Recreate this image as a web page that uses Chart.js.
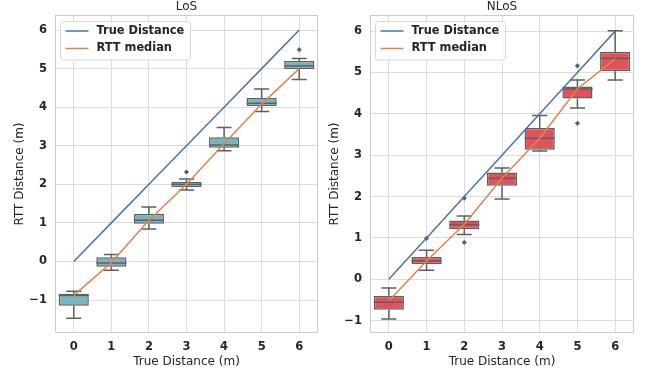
<!DOCTYPE html>
<html><head><meta charset="utf-8">
<script src="https://cdn.jsdelivr.net/npm/chart.js@4"></script>
<style>
body{margin:0;background:#fff;width:651px;height:375px;overflow:hidden;position:relative}
canvas{position:absolute;top:0}
#c1{left:0}
#c2{left:325px}
</style></head><body>
<canvas id="c1" width="325" height="375"></canvas>
<canvas id="c2" width="326" height="375"></canvas>
<script>
const categories = ['0','1','2','3','4','5','6'];
const yTicks = [-1,0,1,2,3,4,5,6];
const trueDistance = [0,1,2,3,4,5,6];

// LoS box statistics
const losQ1   = [-1.15, -0.14, 0.98, 1.93, 2.95, 4.03, 4.99];
const losQ3   = [-0.84,  0.11, 1.23, 2.06, 3.22, 4.24, 5.20];
const losMed  = [-0.88, -0.04, 1.07, 2.00, 3.02, 4.10, 5.07];
const losLow  = [-1.47, -0.23, 0.84, 1.85, 2.87, 3.89, 4.72];
const losHigh = [-0.77,  0.18, 1.41, 2.14, 3.47, 4.47, 5.26];
const losOutliers = [{x:'3', y:2.32}, {x:'6', y:5.49}];
const losRtt  = [-0.88, -0.03, 1.07, 2.00, 3.05, 4.08, 5.00];

// NLoS box statistics
const nlosQ1   = [-0.74, 0.36, 1.21, 2.26, 3.13, 4.37, 5.03];
const nlosQ3   = [-0.40, 0.54, 1.42, 2.58, 3.66, 4.66, 5.50];
const nlosMed  = [-0.555, 0.44, 1.32, 2.44, 3.41, 4.60, 5.34];
const nlosLow  = [-0.96, 0.22, 1.08, 1.94, 3.10, 4.14, 4.82];
const nlosHigh = [-0.21, 0.70, 1.53, 2.69, 3.96, 4.82, 6.01];
const nlosOutliers = [{x:'1', y:0.99}, {x:'2', y:0.89}, {x:'2', y:1.96}, {x:'5', y:5.16}, {x:'5', y:3.77}];
const nlosRtt  = [-0.52, 0.44, 1.33, 2.44, 3.41, 4.60, 5.33];

const FONT = "'DejaVu Sans', sans-serif";
const EDGE = '#5f5f5f';

function boxPlugin(low, high, med) {
  return {
    id: 'boxExtras',
    beforeDatasetDraw(chart, args) {
      if (args.index !== 0) return;
      const ctx = chart.ctx, y = chart.scales.y;
      const meta = chart.getDatasetMeta(0);
      ctx.save();
      ctx.strokeStyle = EDGE; ctx.lineWidth = 1.5;
      meta.data.forEach((bar, i) => {
        const cx = bar.x, cap = bar.width * 0.25;
        const yl = y.getPixelForValue(low[i]), yh = y.getPixelForValue(high[i]);
        const yb = Math.max(bar.y, bar.base), yt = Math.min(bar.y, bar.base);
        ctx.beginPath();
        ctx.moveTo(cx, yt); ctx.lineTo(cx, yh);
        ctx.moveTo(cx - cap, yh); ctx.lineTo(cx + cap, yh);
        ctx.moveTo(cx, yb); ctx.lineTo(cx, yl);
        ctx.moveTo(cx - cap, yl); ctx.lineTo(cx + cap, yl);
        ctx.stroke();
      });
      ctx.restore();
    },
    afterDatasetDraw(chart, args) {
      if (args.index !== 0) return;
      const ctx = chart.ctx, y = chart.scales.y;
      const meta = chart.getDatasetMeta(0);
      ctx.save();
      ctx.strokeStyle = EDGE; ctx.lineWidth = 1.5;
      meta.data.forEach((bar, i) => {
        const ym = y.getPixelForValue(med[i]);
        ctx.beginPath();
        ctx.moveTo(bar.x - bar.width/2, ym); ctx.lineTo(bar.x + bar.width/2, ym);
        ctx.stroke();
      });
      ctx.restore();
    }
  };
}

const decorPlugin = {
  id: 'decor',
  afterDraw(chart) {
    const ctx = chart.ctx, a = chart.chartArea;
    const o = chart.options.plugins.decor;
    ctx.save();
    ctx.strokeStyle = '#cccccc'; ctx.lineWidth = 1;
    ctx.strokeRect(a.left + 0.5, a.top + 0.5, a.right - a.left - 1, a.bottom - a.top - 1);
    // title
    ctx.fillStyle = '#262626';
    ctx.font = '12px ' + FONT;
    ctx.textAlign = 'center'; ctx.textBaseline = 'middle';
    ctx.fillText(o.title, (a.left + a.right) / 2, 7);
    // legend
    const bx = a.left + 5.5, by = a.top + 6.5, bw = 130, bh = 38.5, r = 3;
    ctx.beginPath();
    ctx.moveTo(bx + r, by); ctx.lineTo(bx + bw - r, by); ctx.quadraticCurveTo(bx + bw, by, bx + bw, by + r);
    ctx.lineTo(bx + bw, by + bh - r); ctx.quadraticCurveTo(bx + bw, by + bh, bx + bw - r, by + bh);
    ctx.lineTo(bx + r, by + bh); ctx.quadraticCurveTo(bx, by + bh, bx, by + bh - r);
    ctx.lineTo(bx, by + r); ctx.quadraticCurveTo(bx, by, bx + r, by);
    ctx.closePath();
    ctx.fillStyle = 'rgba(255,255,255,0.85)'; ctx.fill();
    ctx.strokeStyle = '#d6d6d6'; ctx.stroke();
    const items = [[chart.data.datasets[1].label, '#4c72b0'], [chart.data.datasets[2].label, '#dd8452']];
    items.forEach(([txt, col], k) => {
      const ly = by + 9.5 + k * 17.5;
      ctx.strokeStyle = col; ctx.lineWidth = 1.5;
      ctx.beginPath(); ctx.moveTo(bx + 5, ly); ctx.lineTo(bx + 28, ly); ctx.stroke();
      ctx.fillStyle = '#262626';
      ctx.font = 'bold 11.4px ' + FONT;
      ctx.textAlign = 'left'; ctx.textBaseline = 'middle';
      ctx.fillText(txt, bx + 36, ly);
    });
    ctx.restore();
  }
};

function build(id, s) {
  return new Chart(document.getElementById(id), {
    type: 'bar',
    data: {
      labels: categories,
      datasets: [
        { type: 'bar', label: 'box', data: s.q1.map((v, i) => [v, s.q3[i]]),
          backgroundColor: s.color, borderColor: EDGE, borderWidth: 1.5, borderSkipped: false,
          barPercentage: 0.8, categoryPercentage: 1.0, order: 3 },
        { type: 'line', label: 'True Distance', data: trueDistance, borderColor: '#4c72b0',
          borderWidth: 1.5, pointRadius: 0, fill: false, order: 1 },
        { type: 'line', label: 'RTT median', data: s.rtt, borderColor: '#dd8452',
          borderWidth: 1.5, pointRadius: 0, fill: false, order: 1 },
        { type: 'line', label: 'outliers', data: s.outliers, showLine: false,
          pointStyle: 'rectRot', pointRadius: 2.6, backgroundColor: EDGE, borderColor: EDGE,
          borderWidth: 0, order: 2 }
      ]
    },
    options: {
      responsive: false, animation: false, devicePixelRatio: 1,
      layout: { padding: { top: 15, right: s.rightPad, left: 0, bottom: 0 } },
      plugins: { legend: { display: false }, tooltip: { enabled: false }, decor: { title: s.title } },
      scales: {
        x: {
          type: 'category', offset: true,
          grid: { offset: false, color: '#dcdcdc', lineWidth: 1, drawTicks: false },
          border: { display: false },
          ticks: { color: '#262626', font: { family: FONT, size: 11.5, weight: 'bold' }, padding: 7 },
          title: { display: true, text: 'True Distance (m)', color: '#262626',
                   font: { family: FONT, size: 12 }, padding: { top: 0, bottom: 5.5 } },
          afterFit(sc) { sc.height = 42; }
        },
        y: {
          type: 'linear', min: s.yMin, max: s.yMax,
          afterBuildTicks(sc) { sc.ticks = yTicks.map(v => ({ value: v })); },
          grid: { color: '#dcdcdc', lineWidth: 1, drawTicks: false },
          border: { display: false },
          ticks: { color: '#262626', font: { family: FONT, size: 11.5, weight: 'bold' }, padding: 8,
                   callback: v => String(v).replace('-', '\u2212') },
          title: { display: true, text: 'RTT Distance (m)', color: '#262626',
                   font: { family: FONT, size: 12 }, padding: { top: s.yTitlePad, bottom: 0 } },
          afterFit(sc) { sc.width = s.yAxisW; }
        }
      }
    },
    plugins: [boxPlugin(s.low, s.high, s.med), decorPlugin]
  });
}

build('c1', { title: 'LoS', q1: losQ1, q3: losQ3, med: losMed, low: losLow, high: losHigh,
  outliers: losOutliers, rtt: losRtt, color: '#7ab5bf', yMin: -1.855, yMax: 6.39,
  yAxisW: 55, yTitlePad: 12.8, rightPad: 7 });
build('c2', { title: 'NLoS', q1: nlosQ1, q3: nlosQ3, med: nlosMed, low: nlosLow, high: nlosHigh,
  outliers: nlosOutliers, rtt: nlosRtt, color: '#e0535d', yMin: -1.30, yMax: 6.39,
  yAxisW: 45, yTitlePad: 2.8, rightPad: 17 });
</script>
</body></html>
